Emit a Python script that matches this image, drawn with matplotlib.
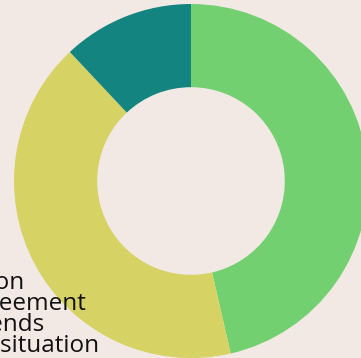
import matplotlib
matplotlib.use("Agg")
import matplotlib.pyplot as plt

# Survey shares per category
categories = ["Competition", "Rental agreement", "Market trends", "Economic situation"]
shares = [46.4, 41.6, 12.0, 0.0]
colors = ["#73D070", "#D6D264", "#13847F", "#3B528B"]

bg = "#F2E9E5"
W, H = 361, 358
fig = plt.figure(figsize=(W / 100, H / 100), dpi=100, facecolor=bg)

# Donut axes: radius 1 spans 177 px, centred at (191, 181) from the top-left
R = 177
cx, cy = 191, H - 181
ax = fig.add_axes([(cx - R) / W, (cy - R) / H, 2 * R / W, 2 * R / H])
ax.set_facecolor(bg)
ax.pie(shares, colors=colors, startangle=90, counterclock=False, radius=1.0,
       wedgeprops=dict(width=0.47, linewidth=0))
ax.set_xlim(-1, 1)
ax.set_ylim(-1, 1)
ax.set_aspect("equal")
ax.axis("off")

# Legend labels, stacked at the lower left
x0 = -116 / W
for i, lab in enumerate(categories):
    yb = (H - (289 + 21 * i)) / H
    fig.text(x0, yb, lab, ha="left", va="baseline", fontsize=17.5,
             family="Open Sans", color="#111111", zorder=10)

fig.savefig("out.png", dpi=100, facecolor=bg)
